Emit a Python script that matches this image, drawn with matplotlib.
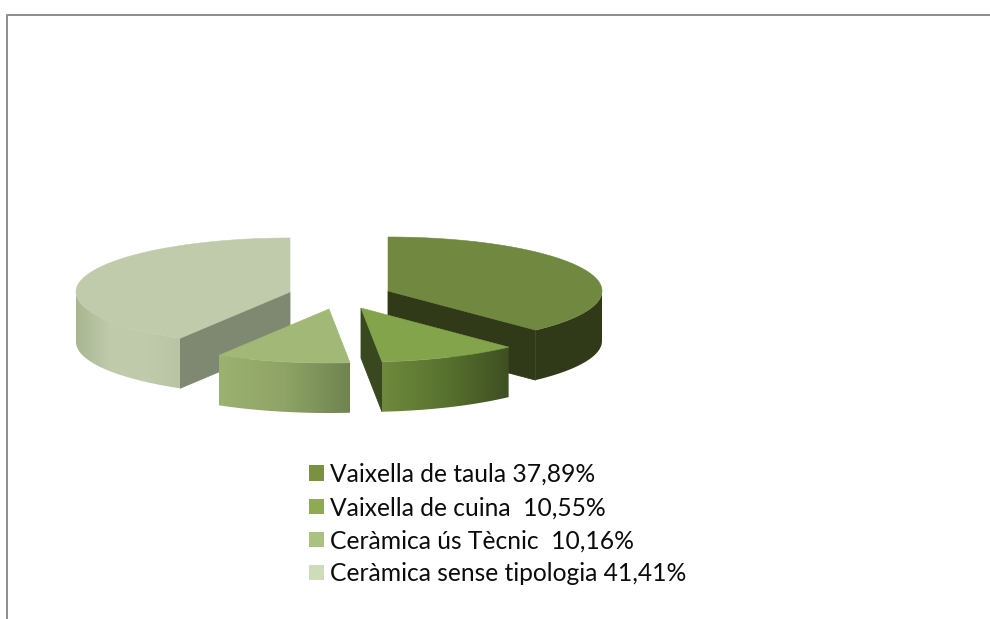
import numpy as np
import matplotlib
matplotlib.use('Agg')
import matplotlib.pyplot as plt
from matplotlib.colors import LinearSegmentedColormap
from matplotlib.patches import Patch, Polygon

plt.rcParams['font.family'] = ['Lato', 'DejaVu Sans']

# slices, going clockwise from 12 o'clock
labels = ['Vaixella de taula 37,89%', 'Vaixella de cuina  10,55%',
          'Ceràmica ús Tècnic  10,16%', 'Ceràmica sense tipologia 41,41%']
values = [37.89, 10.55, 10.16, 41.41]

# colours
legend_colors = ['#7a9142', '#8fab52', '#abc17f', '#cfdcb9']
top_colors = ['#70883f', '#84a44c', '#a2b877', '#bfcbab']
cut_colors = ['#313a18', '#39481f', None, '#7f8871']
rim_colors = [['#313a18', '#313a18'],
              ['#6f8a3c', '#58722f', '#3f4f22'],
              ['#9cb271', '#8ea365', '#6f8350'],
              ['#a9b691', '#bfcbab', '#bfcbab', '#b8c4a3']]

# exploded centres in pixels, ellipse radii and thickness
centers = [(388, 291), (361, 308), (329, 309), (290, 292)]
rx = 214
ry = 54
depth = 50

angles = np.concatenate([[0], np.cumsum(values)]) / np.sum(values) * 2 * np.pi


def rim_point(center, t):
    return center[0] + rx * np.sin(t), center[1] - ry * np.cos(t)


fig = plt.figure(figsize=(9.9, 6.19), dpi=100)
ax = fig.add_axes([0, 0, 1, 1])
ax.axis('off')

# frame of the chart area
ax.plot([6.5, 6.5, 990], [619, 14.5, 14.5], color='#8c8c8c', lw=1.4)

# back slices first, the two small ones sit in front
z = 2
for i in [0, 3, 1, 2]:
    c = centers[i]
    t0, t1 = angles[i], angles[i + 1]

    # cut face seen from the front
    if cut_colors[i] is not None:
        t_cut = t1 if i < 3 else t0
        ex, ey = rim_point(c, t_cut)
        ax.add_patch(Polygon([c, (ex, ey), (ex, ey + depth), (c[0], c[1] + depth)],
                             closed=True, fc=cut_colors[i], ec=cut_colors[i], lw=0.6, zorder=z))

    # outer wall, only the part facing us, with a left to right shading
    ts = np.linspace(max(t0, np.pi / 2), min(t1, 3 * np.pi / 2), 80)
    xs, ys = rim_point(c, ts)
    wall = Polygon(list(zip(xs, ys)) + list(zip(xs[::-1], ys[::-1] + depth)),
                   closed=True, fc='none', ec='none', zorder=z + 1)
    ax.add_patch(wall)
    cmap = LinearSegmentedColormap.from_list('rim%d' % i, rim_colors[i])
    im = ax.imshow(np.linspace(0, 1, 256).reshape(1, -1), cmap=cmap, aspect='auto',
                   extent=(xs.min(), xs.max(), ys.max() + depth, ys.min()), zorder=z + 1)
    im.set_clip_path(wall)

    # top surface
    ts = np.linspace(t0, t1, 120)
    xs, ys = rim_point(c, ts)
    ax.add_patch(Polygon([c] + list(zip(xs, ys)), closed=True, fc=top_colors[i],
                         ec=top_colors[i], lw=0.4, zorder=z + 2))
    z += 3

ax.set_xlim(0, 990)
ax.set_ylim(619, 0)

handles = [Patch(fc=col, ec='none') for col in legend_colors]
leg = ax.legend(handles, labels, loc='upper left', bbox_to_anchor=(309 / 990, 1 - 463 / 619),
                frameon=False, fontsize=17.7, borderpad=0, borderaxespad=0,
                handlelength=0.61, handleheight=0.61, handletextpad=0.25, labelspacing=0.41,
                labelcolor='#0c0c0c')
leg.set_zorder(30)

fig.savefig('out.png', dpi=100)
